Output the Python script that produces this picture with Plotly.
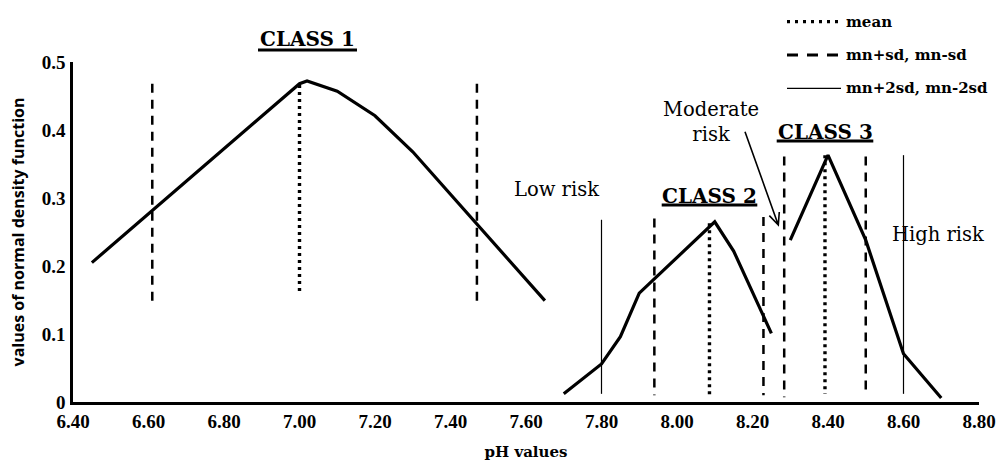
import math
import plotly.graph_objects as go

# Normal density curves for the three pH classes
c1_ph = [6.45, 7.00, 7.02, 7.10, 7.20, 7.30, 7.65]
c1_d = [0.205, 0.468, 0.472, 0.457, 0.421, 0.368, 0.149]
c2_ph = [7.70, 7.80, 7.85, 7.90, 8.10, 8.15, 8.25]
c2_d = [0.012, 0.056, 0.096, 0.160, 0.265, 0.222, 0.101]
c3_ph = [8.30, 8.40, 8.50, 8.60, 8.70]
c3_d = [0.238, 0.363, 0.238, 0.071, 0.006]

# Reference lines: class means, mean +/- sd, mean +/- 2sd (position, bottom, top)
mean_ph = [7.00, 8.086, 8.392]
mean_bot = [0.158, 0.010, 0.012]
mean_top = [0.466, 0.263, 0.363]
sd_ph = [6.61, 7.47, 7.94, 8.229, 8.284, 8.50]
sd_bot = [0.148, 0.148, 0.010, 0.010, 0.007, 0.010]
sd_top = [0.468, 0.468, 0.270, 0.272, 0.361, 0.361]
sd2_ph = [7.80, 8.60]
sd2_bot = [0.012, 0.012]
sd2_top = [0.268, 0.363]

x_ticks = [6.40, 6.60, 6.80, 7.00, 7.20, 7.40, 7.60, 7.80, 8.00, 8.20, 8.40, 8.60, 8.80]
y_ticks = [0, 0.1, 0.2, 0.3, 0.4, 0.5]

W, H = 997, 461
ML, MR, MT, MB = 73, 18, 62, 59
PW, PH = W - ML - MR, H - MT - MB


def px(x):
    return (x - ML) / PW


def py(y):
    return (H - MB - y) / PH


SERIF = "DejaVu Serif"
fig = go.Figure()

for xs, ys in [(c1_ph, c1_d), (c2_ph, c2_d), (c3_ph, c3_d)]:
    fig.add_trace(go.Scatter(x=xs, y=ys, mode="lines",
                             line=dict(color="black", width=3.2),
                             showlegend=False, hoverinfo="skip"))

for xs, bots, tops, dash, wd in [
    (mean_ph, mean_bot, mean_top, "3px,4px", 3.4),
    (sd_ph, sd_bot, sd_top, "9px,7px", 2.5),
    (sd2_ph, sd2_bot, sd2_top, "solid", 1.2),
]:
    for x, b, t in zip(xs, bots, tops):
        fig.add_trace(go.Scatter(x=[x, x], y=[t, b], mode="lines",
                                 line=dict(color="black", width=wd, dash=dash),
                                 showlegend=False, hoverinfo="skip"))

shapes = []
annotations = []

# Key in the top right corner
key = [
    ("3px,5px", 3.2, 21.7, "mean"),
    ("11px,9px", 3, 55, "mn+sd, mn-sd"),
    ("solid", 1.3, 88.3, "mn+2sd, mn-2sd"),
]
for dash, wd, yy, label in key:
    shapes.append(dict(type="line", xref="paper", yref="paper",
                       x0=px(787), x1=px(841), y0=py(yy), y1=py(yy),
                       line=dict(color="black", width=wd, dash=dash)))
    annotations.append(dict(xref="paper", yref="paper", x=px(844), y=py(yy),
                            xanchor="left", yanchor="middle", showarrow=False,
                            text=label,
                            font=dict(family=SERIF, size=15, color="black", weight="bold")))

# Class titles with underlines
for label, cx, cy, x0, x1, uy in [
    ("CLASS 1", 307.5, 39, 258, 357, 50),
    ("CLASS 2", 709.5, 195.5, 661.7, 757.3, 205),
    ("CLASS 3", 825, 132, 776.7, 873.3, 141),
]:
    annotations.append(dict(xref="paper", yref="paper", x=px(cx), y=py(cy),
                            xanchor="center", yanchor="middle", showarrow=False,
                            text=label,
                            font=dict(family=SERIF, size=20, color="black", weight="bold")))
    shapes.append(dict(type="line", xref="paper", yref="paper",
                       x0=px(x0), x1=px(x1), y0=py(uy), y1=py(uy),
                       line=dict(color="black", width=3)))

# Risk zone labels
for label, cx, cy in [
    ("Low risk", 556.3, 189),
    ("Moderate<br>risk", 710.5, 122),
    ("High risk", 937.5, 234),
]:
    annotations.append(dict(xref="paper", yref="paper", x=px(cx), y=py(cy),
                            xanchor="center", yanchor="middle", showarrow=False,
                            text=label, align="center",
                            font=dict(family=SERIF, size=19.5, color="black")))

# Arrow pointing to the moderate risk gap
ax0, ay0, tx, ty = 745, 131.7, 778.3, 225
dx, dy = tx - ax0, ty - ay0
n = (dx * dx + dy * dy) ** 0.5
ux, uy_ = dx / n, dy / n
hl, ang = 13, math.radians(24)
wings = []
for s in (1, -1):
    c, si = math.cos(s * ang), math.sin(s * ang)
    rx, ry = ux * c - uy_ * si, ux * si + uy_ * c
    wings.append((tx - hl * rx, ty - hl * ry))
path = (f"M {px(ax0)} {py(ay0)} L {px(tx)} {py(ty)} "
        f"M {px(wings[0][0])} {py(wings[0][1])} L {px(tx)} {py(ty)} "
        f"L {px(wings[1][0])} {py(wings[1][1])}")
shapes.append(dict(type="path", xref="paper", yref="paper", path=path,
                   line=dict(color="black", width=1.6)))

fig.update_layout(
    width=W, height=H,
    margin=dict(l=ML, r=MR, t=MT, b=MB, pad=0, autoexpand=False),
    paper_bgcolor="white", plot_bgcolor="white",
    shapes=shapes, annotations=annotations,
    showlegend=False,
    xaxis=dict(range=[6.40, 8.80], tickvals=x_ticks,
               ticktext=[f"{v:.2f}" for v in x_ticks],
               showgrid=False, zeroline=False, ticks="", automargin=False,
               showline=True, linecolor="black", linewidth=2.5,
               ticklabelstandoff=0,
               tickfont=dict(family="Liberation Serif", size=19, color="black", weight="bold"),
               title=dict(text="pH values", standoff=28,
                          font=dict(family=SERIF, size=15, color="black", weight="bold"))),
    yaxis=dict(range=[0, 0.5], tickvals=y_ticks,
               ticktext=["0", "0.1", "0.2", "0.3", "0.4", "0.5"],
               showgrid=False, zeroline=False, ticks="", automargin=False,
               showline=True, linecolor="black", linewidth=2.5,
               ticklabelstandoff=1,
               tickfont=dict(family="Liberation Serif", size=19, color="black", weight="bold"),
               title=dict(text="values of normal density function", standoff=14,
                          font=dict(family="Open Sans", size=16, color="black", weight="bold"))),
)

fig.write_html("out.html")
